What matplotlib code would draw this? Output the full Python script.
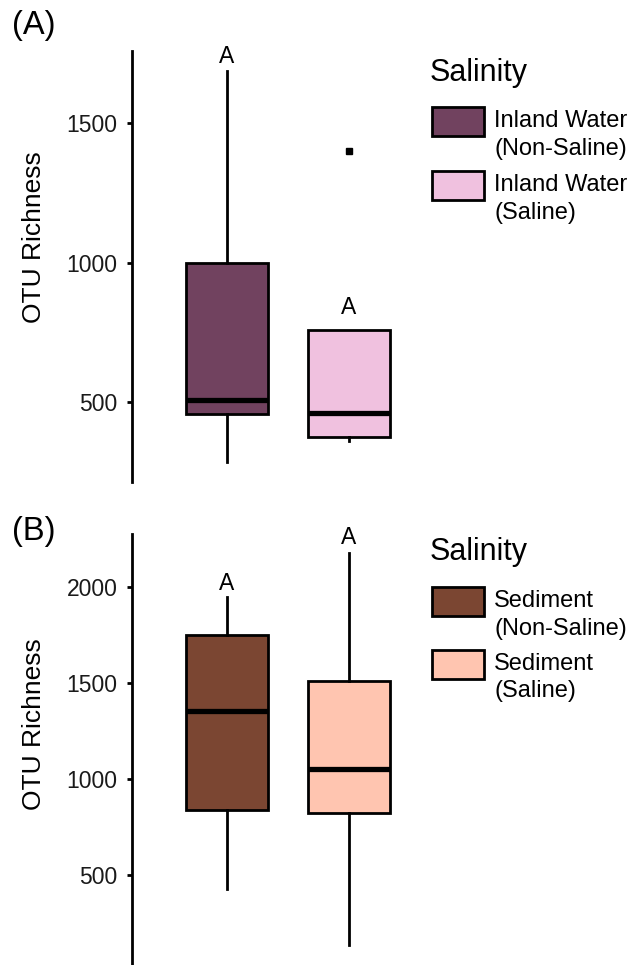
import matplotlib
matplotlib.use("Agg")
import matplotlib.pyplot as plt
from matplotlib.patches import Rectangle

plt.rcParams['font.family'] = ['Liberation Sans', 'DejaVu Sans']

# ---- data -------------------------------------------------------------
groups_a = ["Inland Water\n(Non-Saline)", "Inland Water\n(Saline)"]
colors_a = ["#71425F", "#F0C1DF"]
q1_a = [457, 377]
med_a = [508, 463]
q3_a = [1000, 759]
whislo_a = [285, 363]
whishi_a = [1686, 759]
fliers_a = [[], [1401]]
letters_a = ["A", "A"]
letter_y_a = [1715, 816]
yticks_a = [500, 1000, 1500]
ylim_a = (215, 1759)

groups_b = ["Sediment\n(Non-Saline)", "Sediment\n(Saline)"]
colors_b = ["#7B4632", "#FFC5B0"]
q1_b = [839, 824]
med_b = [1356, 1054]
q3_b = [1748, 1509]
whislo_b = [426, 135]
whishi_b = [1949, 2177]
fliers_b = [[], []]
letters_b = ["A", "A"]
letter_y_b = [1984, 2224]
yticks_b = [500, 1000, 1500, 2000]
ylim_b = (31, 2276)

W, H = 629, 965
fig = plt.figure(figsize=(W / 100, H / 100), dpi=100)


def fx(px):
    return px / W


def fy(py):
    return 1 - py / H


def panel(top_px, bottom_px, q1, med, q3, lo, hi, fliers, colors, letters,
          letter_y, yticks, ylim, label_y):
    ax = fig.add_axes([fx(132), fy(bottom_px), fx(410) - fx(132),
                       fy(top_px) - fy(bottom_px)])
    stats = []
    for i in range(len(q1)):
        stats.append(dict(q1=q1[i], med=med[i], q3=q3[i], whislo=lo[i],
                          whishi=hi[i], fliers=fliers[i]))
    bp = ax.bxp(stats, positions=[1, 2], widths=0.67, patch_artist=True,
                showcaps=False,
                boxprops=dict(linewidth=2.0, edgecolor="black"),
                whiskerprops=dict(linewidth=2.0, color="black"),
                medianprops=dict(linewidth=3.8, color="black",
                                 solid_capstyle="butt"),
                flierprops=dict(marker="s", markersize=5,
                                markerfacecolor="black",
                                markeredgecolor="black"))
    for patch, c in zip(bp["boxes"], colors):
        patch.set_facecolor(c)
    for x, (t, y) in enumerate(zip(letters, letter_y), start=1):
        ax.text(x, y, t, ha="center", va="baseline", fontsize=16.5)
    ax.set_xlim(0.221, 2.5)
    ax.set_ylim(*ylim)
    ax.set_yticks(yticks)
    ax.set_xticks([])
    for s in ("top", "right", "bottom"):
        ax.spines[s].set_visible(False)
    ax.spines["left"].set_linewidth(2.0)
    ax.tick_params(axis="y", length=3.6, width=2.0, pad=7, labelsize=16.5,
                   labelcolor="#1a1a1a")
    ax.set_ylabel("OTU Richness", fontsize=19)
    ax.yaxis.set_label_coords(-0.3076, label_y)
    ax.patch.set_alpha(0)
    return ax


def legend(title_base, patch_tops, labels, colors):
    fig.text(fx(430), fy(title_base), "Salinity", fontsize=22,
             va="baseline", ha="left")
    for top, lab, c in zip(patch_tops, labels, colors):
        fig.add_artist(Rectangle((fx(432), fy(top + 29)), fx(52), 29 / H,
                                 transform=fig.transFigure, facecolor=c,
                                 edgecolor="black", linewidth=2.0))
        for k, line in enumerate(lab.split("\n")):
            fig.text(fx(494), fy(top + 20 + 27.5 * k), line, fontsize=17,
                     va="baseline", ha="left")


panel(50.7, 482, q1_a, med_a, q3_a, whislo_a, whishi_a, fliers_a, colors_a,
      letters_a, letter_y_a, yticks_a, ylim_a, 0.567)
panel(534, 965, q1_b, med_b, q3_b, whislo_b, whishi_b, fliers_b, colors_b,
      letters_b, letter_y_b, yticks_b, ylim_b, 0.559)

legend(81, [107, 171], groups_a, colors_a)
legend(560, [587, 650], groups_b, colors_b)

fig.text(fx(12), fy(34), "(A)", fontsize=23.5, va="baseline", ha="left")
fig.text(fx(12), fy(540), "(B)", fontsize=23.5, va="baseline", ha="left")

fig.savefig("out.png", dpi=100)
